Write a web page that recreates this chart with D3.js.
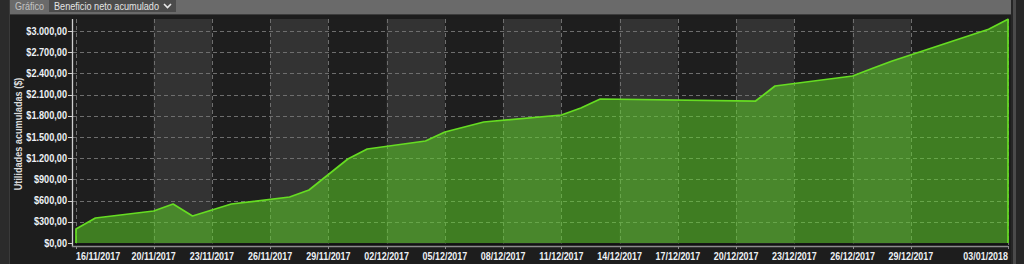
<!DOCTYPE html>
<html><head><meta charset="utf-8">
<script src="https://cdn.jsdelivr.net/npm/d3@7"></script>
<style>body{margin:0;background:#1d1d1d;overflow:hidden}svg{display:block}</style>
</head><body><svg id="c" width="1024" height="264"></svg>
<script>
// ---- data ----
const dates = ["2017-11-16","2017-11-17","2017-11-20","2017-11-21","2017-11-22","2017-11-24","2017-11-27","2017-11-28","2017-11-30","2017-12-01","2017-12-04","2017-12-05","2017-12-07","2017-12-11","2017-12-12","2017-12-13","2017-12-21","2017-12-22","2017-12-26","2017-12-27","2017-12-28","2018-01-02","2018-01-03"];
const values = [198, 354, 453, 552, 382, 552, 651, 750, 1189, 1330, 1443, 1571, 1712, 1811, 1910, 2038, 2009, 2222, 2363, 2469, 2572, 3024, 3165];
const tickDates = ["2017-11-16","2017-11-20","2017-11-23","2017-11-26","2017-11-29","2017-12-02","2017-12-05","2017-12-08","2017-12-11","2017-12-14","2017-12-17","2017-12-20","2017-12-23","2017-12-26","2017-12-29","2018-01-03"];
const yTicks = [0, 300, 600, 900, 1200, 1500, 1800, 2100, 2400, 2700, 3000];
const menuLabel = "Gráfico";
const menuValue = "Beneficio neto acumulado";
const yTitle = "Utilidades acumuladas ($)";
const xTitle = "Fecha";

// ---- setup ----
const svg = d3.select("#c");
const parse = d3.utcParse("%Y-%m-%d");
const fmtDate = d3.utcFormat("%d/%m/%Y");
const loc = d3.formatLocale({decimal:",", thousands:".", grouping:[3], currency:["$",""]});
const fmtMoney = loc.format("$,.2f");
const data = dates.map((d,i)=>({date:parse(d), value:values[i]}));
const ticks = tickDates.map(parse);

const L = 76, R = 1008, T = 19, B = 245;
const x = d3.scaleUtc().domain([ticks[0], ticks[ticks.length-1]]).range([L, R]);
const y = d3.scaleLinear().domain([0, 3000]).range([243, 31]);

function fitTo(sel, w) {
  sel.attr("textLength", w).attr("lengthAdjust","spacingAndGlyphs");
}
function squeeze(sel, k) {
  sel.each(function(){ const w = this.getComputedTextLength(); d3.select(this).attr("textLength", w*k).attr("lengthAdjust","spacingAndGlyphs"); });
}

// outer chrome
svg.append("rect").attr("x",0).attr("y",0).attr("width",1024).attr("height",264).attr("fill","#1d1d1d");
svg.append("rect").attr("x",0).attr("y",0).attr("width",9).attr("height",264).attr("fill","#2b2b2b");
svg.append("rect").attr("x",9).attr("y",0).attr("width",1).attr("height",264).attr("fill","#3a3a3a");
svg.append("rect").attr("x",1011).attr("y",0).attr("width",13).attr("height",264).attr("fill","#262626");
svg.append("rect").attr("x",1013).attr("y",0).attr("width",3).attr("height",264).attr("fill","#4a4a4a");
svg.append("rect").attr("x",10).attr("y",0).attr("width",1001).attr("height",14).attr("fill","#6a6a6a");
svg.append("rect").attr("x",10).attr("y",14).attr("width",1001).attr("height",1).attr("fill","#3c3c3c");
svg.append("rect").attr("x",49).attr("y",0).attr("width",127).attr("height",12).attr("fill","#4b4b4b");
svg.append("text").attr("x",15).attr("y",9.5).attr("fill","#c4c4c4")
  .style("font","10px 'Liberation Sans', Arial, sans-serif").text(menuLabel).call(fitTo, 29);
svg.append("text").attr("x",54).attr("y",9.5).attr("fill","#e4e4e4")
  .style("font","10px 'Liberation Sans', Arial, sans-serif").text(menuValue).call(fitTo, 105);
svg.append("path").attr("d","M164,4 L167.5,7.5 L171,4").attr("fill","none").attr("stroke","#e8e8e8").attr("stroke-width",1.6);

// bands
const g = svg.append("g");
for (let i = 0; i < ticks.length-1; i++) {
  g.append("rect").attr("x", x(ticks[i])).attr("y", T)
    .attr("width", x(ticks[i+1]) - x(ticks[i])).attr("height", B - T)
    .attr("fill", i % 2 ? "#333333" : "#1e1e1e");
}
// gridlines
g.selectAll(".hg").data(yTicks.slice(1)).join("line")
  .attr("x1", 73).attr("x2", R).attr("y1", d=>Math.round(y(d))+0.5).attr("y2", d=>Math.round(y(d))+0.5)
  .attr("stroke","#6e6e6e").attr("stroke-dasharray","4,3");
g.selectAll(".vg").data(ticks).join("line")
  .attr("x1", d=>Math.round(x(d))+0.5).attr("x2", d=>Math.round(x(d))+0.5).attr("y1", T).attr("y2", B)
  .attr("stroke","#6e6e6e").attr("stroke-dasharray","4,3");

// area
const area = d3.area().x(d=>x(d.date)).y0(y(0)).y1(d=>y(d.value));
g.append("path").datum(data).attr("d", area).attr("fill","rgba(96,220,38,0.5)");
const outline = [{date:data[0].date, value:0}, ...data, {date:data[data.length-1].date, value:0}];
g.append("path").datum(outline).attr("d", d3.line().x(d=>x(d.date)).y(d=>y(d.value)))
  .attr("fill","none").attr("stroke","#66dd22").attr("stroke-width",1.7).attr("stroke-linejoin","round");

// bottom dark strip
g.append("rect").attr("x",73).attr("y",243.5).attr("width",R-73).attr("height",2.5).attr("fill","#111");

// axes
svg.append("line").attr("x1",72.5).attr("x2",72.5).attr("y1",T).attr("y2",247).attr("stroke","#cfcfcf").attr("stroke-width",1.3);
svg.append("line").attr("x1",72).attr("x2",R).attr("y1",246.5).attr("y2",246.5).attr("stroke","#8c8c8c").attr("stroke-width",1.4);
svg.selectAll(".yt").data(yTicks).join("line")
  .attr("x1",68).attr("x2",72).attr("y1",d=>Math.round(y(d))+0.5).attr("y2",d=>Math.round(y(d))+0.5)
  .attr("stroke","#cfcfcf");
svg.selectAll(".xt").data(ticks).join("line")
  .attr("x1",d=>Math.round(x(d))+0.5).attr("x2",d=>Math.round(x(d))+0.5).attr("y1",246).attr("y2",249)
  .attr("stroke","#8c8c8c");

const lblFont = "bold 10.5px 'Liberation Sans', Arial, sans-serif";
svg.selectAll(".yl").data(yTicks).join("text")
  .attr("x",67).attr("y",d=>y(d)+3.6).attr("text-anchor","end").attr("fill","#eef1f5")
  .style("font", lblFont).text(d=>fmtMoney(d)).call(squeeze, 0.87);
svg.selectAll(".xl").data(ticks).join("text")
  .attr("x",d=>x(d)).attr("y",259.5)
  .attr("text-anchor",(d,i)=> i===0 ? "start" : (i===ticks.length-1 ? "end" : "middle"))
  .attr("fill","#eef1f5").style("font", lblFont).text(d=>fmtDate(d)).call(squeeze, 0.85);

svg.append("text").attr("transform","translate(22,134) rotate(-90)").attr("text-anchor","middle")
  .attr("fill","#dcdcdc").style("font","bold 10.5px 'Liberation Sans', Arial, sans-serif")
  .text(yTitle).call(squeeze, 0.87);
svg.append("text").attr("x",(L+R)/2).attr("y",272).attr("text-anchor","middle")
  .attr("fill","#dcdcdc").style("font","bold 10.5px 'Liberation Sans', Arial, sans-serif").text(xTitle);
</script></body></html>
